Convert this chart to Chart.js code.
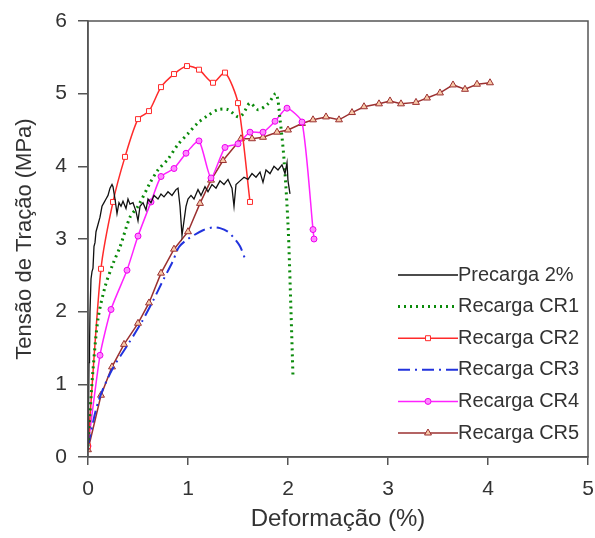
<!DOCTYPE html>
<html>
<head>
<meta charset="utf-8">
<script src="https://cdn.jsdelivr.net/npm/chart.js@4.4.1/dist/chart.umd.min.js"></script>
<style>
  html, body { margin: 0; padding: 0; background: #fff; }
  #wrap { width: 595px; height: 538px; position: relative; }
</style>
</head>
<body>
<div id="wrap"><canvas id="chart"></canvas></div>
<script>
// Precarga 2% (black, noisy trace)
const preX = [0, 0.005, 0.01, 0.015, 0.02, 0.03, 0.04, 0.05, 0.06, 0.07, 0.08, 0.1, 0.12, 0.14, 0.16, 0.18, 0.2, 0.22, 0.24, 0.25,
  0.27, 0.29, 0.31, 0.33, 0.35, 0.38, 0.4, 0.42, 0.45, 0.48, 0.5, 0.52, 0.55, 0.58, 0.6, 0.63, 0.66, 0.7, 0.73, 0.76,
  0.8, 0.84, 0.88, 0.9, 0.92, 0.94, 0.96, 0.98, 1.0, 1.03, 1.06, 1.1, 1.13, 1.17, 1.2, 1.24, 1.28, 1.32, 1.36, 1.4,
  1.44, 1.46, 1.48, 1.52, 1.56, 1.6, 1.64, 1.68, 1.72, 1.75, 1.78, 1.82, 1.86, 1.9, 1.94, 1.97, 1.99, 2.0, 2.02];
const preY = [0.1, 0.6, 1.3, 1.5, 2.0, 2.45, 2.55, 2.6, 2.9, 2.95, 3.1, 3.2, 3.3, 3.45, 3.5, 3.55, 3.6, 3.7, 3.75, 3.72,
  3.55, 3.35, 3.5, 3.45, 3.52, 3.42, 3.55, 3.48, 3.5, 3.38, 3.25, 3.45, 3.5, 3.4, 3.55, 3.5, 3.6, 3.55, 3.62, 3.58,
  3.65, 3.6, 3.68, 3.7, 3.45, 3.05, 3.25, 3.45, 3.55, 3.6, 3.55, 3.68, 3.6, 3.72, 3.65, 3.75, 3.7, 3.8, 3.75, 3.82,
  3.7, 3.45, 3.75, 3.8, 3.85, 3.82, 3.9, 3.85, 3.92, 3.78, 3.95, 3.9, 4.0, 3.95, 4.02, 3.9, 4.05, 3.8, 3.62];

// Recarga CR1 (green dotted)
const cr1X = [0, 0.02, 0.05, 0.1, 0.17, 0.25, 0.32, 0.42, 0.5, 0.62, 0.7, 0.8, 0.9, 1.0, 1.1, 1.2, 1.3, 1.4, 1.5,
  1.55, 1.62, 1.7, 1.8, 1.88, 1.92, 1.96, 2.0, 2.03, 2.05];
const cr1Y = [0.15, 0.6, 1.2, 1.9, 2.34, 2.66, 2.89, 3.3, 3.45, 3.77, 3.95, 4.1, 4.3, 4.45, 4.6, 4.7, 4.78, 4.78, 4.68,
  4.72, 4.87, 4.78, 4.86, 5.0, 4.65, 4.1, 3.2, 2.0, 1.1];

// Recarga CR2 (red, squares)
const cr2X = [0, 0.13, 0.25, 0.37, 0.5, 0.61, 0.73, 0.86, 0.99, 1.11, 1.25, 1.37, 1.5, 1.62];
const cr2Y = [0.15, 2.59, 3.51, 4.13, 4.65, 4.76, 5.09, 5.27, 5.38, 5.33, 5.15, 5.29, 4.87, 3.51];

// Recarga CR3 (blue dash-dot)
const cr3X = [0, 0.1, 0.24, 0.4, 0.53, 0.65, 0.75, 0.85, 0.91, 1.0, 1.15, 1.25, 1.32, 1.4, 1.45, 1.52, 1.58];
const cr3Y = [0.15, 0.75, 1.2, 1.55, 1.84, 2.15, 2.43, 2.7, 2.89, 3.0, 3.12, 3.16, 3.15, 3.1, 3.03, 2.9, 2.69];

// Recarga CR4 (magenta, circles)
const cr4X = [0, 0.12, 0.23, 0.39, 0.5, 0.63, 0.73, 0.86, 0.98, 1.11, 1.23, 1.37, 1.5, 1.62, 1.75, 1.87, 1.99, 2.14, 2.25, 2.26];
const cr4Y = [0.15, 1.4, 2.03, 2.57, 3.04, 3.51, 3.86, 3.97, 4.18, 4.35, 3.84, 4.26, 4.31, 4.47, 4.47, 4.62, 4.8, 4.61, 3.13, 3.0];

// Recarga CR5 (brown, triangles)
const cr5X = [0, 0.13, 0.24, 0.36, 0.5, 0.61, 0.73, 0.86, 1.0, 1.12, 1.23, 1.35, 1.53, 1.64, 1.75, 1.89, 2.0, 2.14,
  2.25, 2.38, 2.51, 2.64, 2.76, 2.91, 3.02, 3.13, 3.28, 3.39, 3.52, 3.65, 3.77, 3.89, 4.02];
const cr5Y = [0.1, 0.85, 1.24, 1.55, 1.84, 2.12, 2.53, 2.86, 3.1, 3.49, 3.81, 4.08, 4.38, 4.38, 4.4, 4.47, 4.5, 4.59,
  4.64, 4.68, 4.64, 4.74, 4.82, 4.86, 4.9, 4.86, 4.88, 4.94, 5.01, 5.12, 5.06, 5.13, 5.15];

const xTicks = [0, 1, 2, 3, 4, 5];
const yTicks = [0, 1, 2, 3, 4, 5, 6];

function pts(xs, ys) {
  return xs.map((x, i) => ({ x: x, y: ys[i] }));
}

const textColor = '#333';
const font = 'Arial, "Liberation Sans", sans-serif';

// legend drawn inside the plot area, bottom right
const insideLegend = {
  id: 'insideLegend',
  afterDraw(chart) {
    const ctx = chart.ctx;
    const a = chart.chartArea;
    // frame round the plot
    ctx.save();
    ctx.strokeStyle = '#555';
    ctx.lineWidth = 1.5;
    ctx.strokeRect(a.left, a.top, a.right - a.left, a.bottom - a.top);

    const x0 = 398, x1 = 458, top = 275, step = 31.6;
    chart.data.datasets.forEach((ds, i) => {
      const y = top + i * step;
      ctx.beginPath();
      ctx.setLineDash(ds.borderDash || []);
      ctx.strokeStyle = ds.borderColor;
      ctx.lineWidth = ds.borderWidth;
      ctx.moveTo(x0, y);
      ctx.lineTo(x1, y);
      ctx.stroke();
      ctx.setLineDash([]);
      if (ds.pointRadius > 0) {
        ctx.fillStyle = ds.pointBackgroundColor;
        ctx.strokeStyle = ds.pointBorderColor;
        ctx.lineWidth = 1;
        Chart.helpers.drawPoint(ctx, { pointStyle: ds.pointStyle, radius: ds.pointRadius, borderWidth: 1 }, (x0 + x1) / 2, y);
      }
      ctx.fillStyle = textColor;
      ctx.font = '20px ' + font;
      ctx.textBaseline = 'middle';
      ctx.textAlign = 'left';
      ctx.fillText(ds.label, x1, y);
    });
    ctx.restore();
  }
};

new Chart(document.getElementById('chart'), {
  type: 'line',
  data: {
    datasets: [
      {
        label: 'Precarga 2%',
        data: pts(preX, preY),
        borderColor: '#111',
        borderWidth: 1.3,
        pointRadius: 0,
        tension: 0
      },
      {
        label: 'Recarga CR1',
        data: pts(cr1X, cr1Y),
        borderColor: '#0a8a0a',
        borderWidth: 3,
        borderDash: [2, 4],
        pointRadius: 0,
        tension: 0.3
      },
      {
        label: 'Recarga CR2',
        data: pts(cr2X, cr2Y),
        borderColor: '#ff2a2a',
        borderWidth: 1.5,
        pointStyle: 'rect',
        pointRadius: 3.5,
        pointBorderWidth: 1,
        pointBackgroundColor: '#fff',
        pointBorderColor: '#ff2a2a',
        tension: 0.25
      },
      {
        label: 'Recarga CR3',
        data: pts(cr3X, cr3Y),
        borderColor: '#2233dd',
        borderWidth: 2,
        borderDash: [12, 5, 2, 5],
        pointRadius: 0,
        tension: 0.3
      },
      {
        label: 'Recarga CR4',
        data: pts(cr4X, cr4Y),
        borderColor: '#ff22ff',
        borderWidth: 1.5,
        pointStyle: 'circle',
        pointRadius: 3,
        pointBorderWidth: 1,
        pointBackgroundColor: '#ff88ff',
        pointBorderColor: '#ee00ee',
        tension: 0.2
      },
      {
        label: 'Recarga CR5',
        data: pts(cr5X, cr5Y),
        borderColor: '#9b3030',
        borderWidth: 1.5,
        pointStyle: 'triangle',
        pointRadius: 4,
        pointBorderWidth: 1,
        pointBackgroundColor: '#f7c9a8',
        pointBorderColor: '#9b3030',
        tension: 0
      }
    ]
  },
  options: {
    responsive: true,
    maintainAspectRatio: false,
    animation: false,
    layout: { padding: { top: 21, right: 7, left: 0, bottom: 0 } },
    plugins: {
      legend: { display: false },
      tooltip: { enabled: false }
    },
    scales: {
      x: {
        type: 'linear',
        min: 0,
        max: 5,
        afterBuildTicks: s => { s.ticks = xTicks.map(v => ({ value: v })); },
        afterFit: s => { s.height = 81; s.paddingLeft = 0; s.paddingRight = 0; },
        grid: { drawOnChartArea: false, drawTicks: true, tickLength: 8, color: '#555', lineWidth: 1.5 },
        border: { display: true, color: '#555', width: 1.5 },
        ticks: { color: textColor, font: { size: 21, family: font }, padding: 12, maxRotation: 0 },
        title: { display: true, text: 'Deformação (%)', color: textColor, font: { size: 24, family: font }, padding: { top: 0 } }
      },
      y: {
        type: 'linear',
        min: 0,
        max: 6,
        afterBuildTicks: s => { s.ticks = yTicks.map(v => ({ value: v })); },
        afterFit: s => { s.width = 88; s.paddingTop = 0; s.paddingBottom = 0; },
        grid: { drawOnChartArea: false, drawTicks: true, tickLength: 10, color: '#555', lineWidth: 1.5 },
        border: { display: true, color: '#555', width: 1.5 },
        ticks: { color: textColor, font: { size: 21, family: font }, padding: 11 },
        title: { display: true, text: 'Tensão de Tração (MPa)', color: textColor, font: { size: 22, family: font }, padding: { top: 12, bottom: 0 } }
      }
    }
  },
  plugins: [insideLegend]
});
</script>
</body>
</html>
